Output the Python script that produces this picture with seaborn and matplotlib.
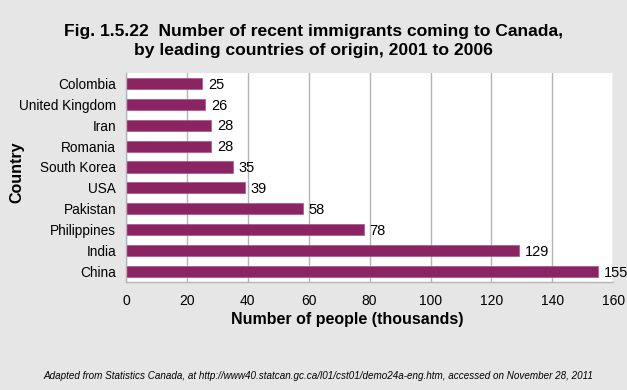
import matplotlib
matplotlib.use("Agg")
import matplotlib.pyplot as plt
import matplotlib.font_manager as fm
import seaborn as sns
import pandas as pd
import numpy as np

countries = ["Colombia", "United Kingdom", "Iran", "Romania", "South Korea",
             "USA", "Pakistan", "Philippines", "India", "China"]
values = [25, 26, 28, 28, 35, 39, 58, 78, 129, 155]
xticks = [0, 20, 40, 60, 80, 100, 120, 140, 160]

title = "Fig. 1.5.22  Number of recent immigrants coming to Canada,\nby leading countries of origin, 2001 to 2006"
xlabel = "Number of people (thousands)"
ylabel = "Country"
source = "Adapted from Statistics Canada, at http://www40.statcan.gc.ca/l01/cst01/demo24a-eng.htm, accessed on November 28, 2011"

sns.set_theme(style="white", rc={"text.color": "black", "axes.labelcolor": "black",
                                  "xtick.color": "black", "ytick.color": "black"})
names = {f.name for f in fm.fontManager.ttflist}
narrow = "Liberation Sans Narrow" if "Liberation Sans Narrow" in names else "Liberation Sans"
plt.rcParams["font.family"] = ["Liberation Sans", "DejaVu Sans"]

bg = "#e6e6e6"
bar_color = "#8b2462"
grid_color = "#b4b4b4"

df = pd.DataFrame({"Country": countries, "Value": values})

fig = plt.figure(figsize=(6.27, 3.90), dpi=100, facecolor=bg)
ax = fig.add_axes([0.201, 0.277, 0.777, 0.536])
ax.set_facecolor("white")

sns.barplot(data=df, x="Value", y="Country", order=countries, orient="h",
            color=bar_color, saturation=1, width=0.53, ax=ax,
            edgecolor="#b0508a", linewidth=0.5)

for i, v in enumerate(values):
    ax.text(v + 2, i + 0.06, str(v), va="center", ha="left", fontsize=10.5, color="black")

ax.set_xlim(0, 160)
ax.set_ylim(len(countries) - 0.5, -0.5)
ax.set_xticks(xticks)
ax.set_xticklabels([str(t) for t in xticks], fontsize=10)
ax.xaxis.grid(True, color=grid_color, linewidth=1)
ax.set_axisbelow(True)

ax.set_yticks(range(len(countries)))
ax.set_yticklabels(countries, fontsize=9.8)
ax.set_yticks(np.arange(-0.5, len(countries), 1), minor=True)
ax.tick_params(axis="y", which="major", length=0, pad=7, labelcolor="black")
ax.tick_params(axis="y", which="minor", length=4, color=grid_color, width=1, direction="out")
ax.tick_params(axis="x", which="major", length=5, color=grid_color, width=1, direction="out", pad=4,
               labelcolor="black")

for s in ["top", "right"]:
    ax.spines[s].set_visible(False)
for s in ["left", "bottom"]:
    ax.spines[s].set_color(grid_color)
    ax.spines[s].set_linewidth(1)

ax.set_xlabel(xlabel, fontsize=11.5, fontweight="bold", color="black")
ax.xaxis.set_label_coords((347 - 126) / 487, (282 - 320) / 209)
ax.xaxis.label.set_va("center")
ax.set_ylabel(ylabel, fontsize=11.5, fontweight="bold", color="black")
ax.yaxis.set_label_coords((17 - 126) / 487, (282 - 172) / 209)
ax.yaxis.label.set_va("center")

fig.text(313 / 627, 1 - 41 / 390, title, ha="center", va="center", fontsize=12.6,
         fontweight="bold", family=[narrow, "DejaVu Sans"], linespacing=1.4, color="black")
fig.text(318 / 627, 1 - 376 / 390, source, ha="center", va="center", fontsize=7.1,
         style="italic", family=[narrow, "DejaVu Sans"], color="black")

fig.savefig("out.png", dpi=100, facecolor=bg)
